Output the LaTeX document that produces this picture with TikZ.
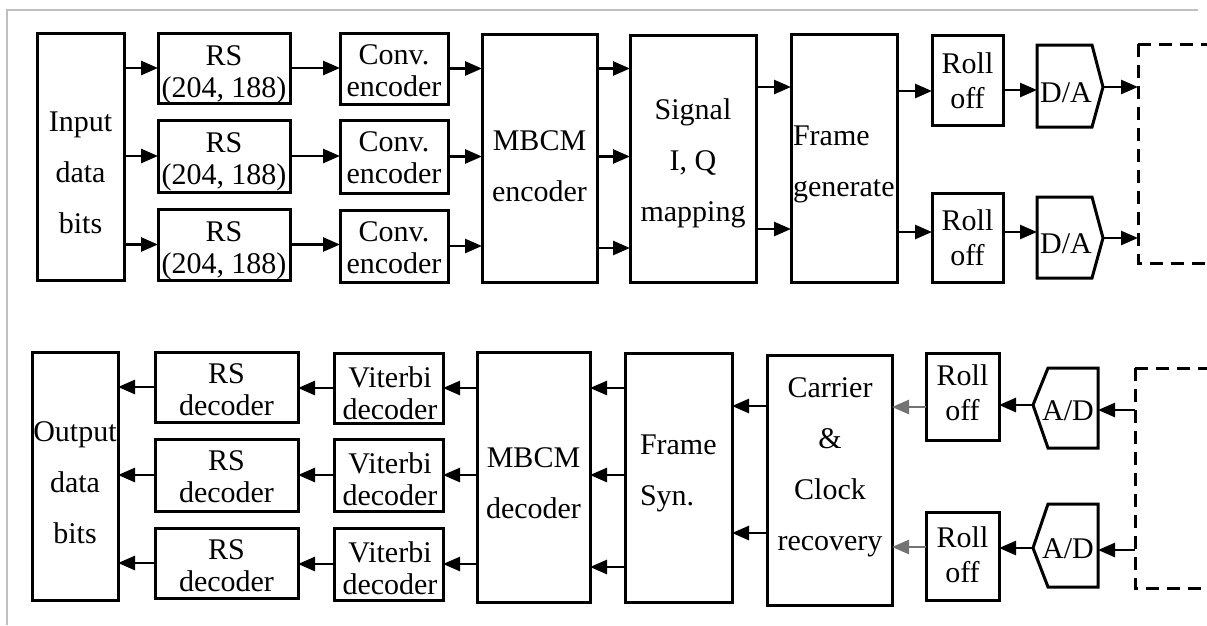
\documentclass[tikz,border=0pt]{standalone}
\usepackage{fontspec}
\setmainfont{Liberation Serif}
\usetikzlibrary{arrows.meta}
\tikzset{
  blk/.style={draw, line width=3pt, inner sep=0pt, outer sep=0pt},
  ghost/.style={inner sep=0pt, outer sep=0pt},
  lbl/.style={inner sep=0pt, outer sep=0pt, align=center, anchor=north, font=\fontsize{30}{32}\selectfont},
  lblro/.style={lbl, font=\fontsize{30}{35}\selectfont},
  lblbig/.style={lbl, font=\fontsize{30}{51}\selectfont},
  lblone/.style={inner sep=0pt, outer sep=0pt, anchor=base, font=\fontsize{30}{32}\selectfont},
  arr/.style={line width=2.6pt, -{Triangle[length=17pt,width=14pt]}},
  arrfaint/.style={arr, black!55},
  dashbox/.style={line width=3pt, dash pattern=on 13pt off 8pt},
  conv/.style={line width=3pt, line join=miter},
}
\newcommand\blkbox[5]{\node[blk, minimum width={(#4-#2)*1pt}, minimum height={(#5-#3)*1pt}] (#1) at ({(#2+#4)/2},{(#3+#5)/2}) {};}
\newcommand\ghostbox[5]{\node[ghost, minimum width={(#4-#2)*1pt}, minimum height={(#5-#3)*1pt}] (#1) at ({(#2+#4)/2},{(#3+#5)/2}) {};}
\begin{document}
\begin{tikzpicture}[x=1pt,y=-1pt]
\useasboundingbox (0,0) rectangle (1207,625);
\fill[white] (0,0) rectangle (1207,625);
\draw[black!25, line width=2pt] (7,625) -- (7,10) -- (1198,10);

% ---------- transmitter ----------
\blkbox{in}{37}{33}{124}{280}
\blkbox{rs1}{158}{33}{290}{103}
\blkbox{rs2}{158}{120}{290}{192}
\blkbox{rs3}{158}{209}{290}{280}
\blkbox{cv1}{340}{33}{448}{104}
\blkbox{cv2}{340}{120}{448}{193}
\blkbox{cv3}{340}{210}{448}{282}
\blkbox{mbe}{482}{34}{597}{282}
\blkbox{sig}{630}{35}{756}{282}
\blkbox{fg}{791}{34}{897}{282}
\blkbox{ro1}{932}{35}{1003}{125}
\blkbox{ro2}{932}{193}{1003}{282}
\ghostbox{da1}{1037}{45}{1092}{127}
\ghostbox{da2}{1037}{197}{1092}{278}
\coordinate (da1p) at (1103,87);
\coordinate (da2p) at (1103,238);
\draw[conv] (da1.north west) -- (da1.north east) -- (da1p) -- (da1.south east) -- (da1.south west) -- cycle;
\draw[conv] (da2.north west) -- (da2.north east) -- (da2p) -- (da2.south east) -- (da2.south west) -- cycle;
\draw[dashbox] (1138,44) -- (1207,44);
\draw[dashbox] (1138,44) -- (1138,263) -- (1207,263);
\coordinate (dt1) at (1138,87);
\coordinate (dt2) at (1138,238);

\node[lblbig] (in-t) at (80.5,112) {Input\\data\\bits};
\node[lbl] (rs1-t) at (224,46) {RS\\(204, 188)};
\node[lbl] (rs2-t) at (224,133) {RS\\(204, 188)};
\node[lbl] (rs3-t) at (224,222) {RS\\(204, 188)};
\node[lbl] (cv1-t) at (394,45) {Conv.\\encoder};
\node[lbl] (cv2-t) at (394,132) {Conv.\\encoder};
\node[lbl] (cv3-t) at (394,222) {Conv.\\encoder};
\node[lblbig] (mbe-t) at (539.5,131) {MBCM\\encoder};
\node[lblbig] (sig-t) at (693,99) {Signal\\I, Q\\mapping};
\node[lblbig, align=left, anchor=north west] (fg-t) at (793,126) {Frame\\generate};
\node[lblro] (ro1-t) at (967.5,53) {Roll\\off};
\node[lblro] (ro2-t) at (967.5,210) {Roll\\off};
\node[lblone] (da1-t) at (1066,102) {D/A};
\node[lblone] (da2-t) at (1066,253) {D/A};

\draw[arr] (in.east |- rs1.west) -- (rs1.west);
\draw[arr] (in.east |- rs2.west) -- (rs2.west);
\draw[arr] (in.east |- rs3.west) -- (rs3.west);
\draw[arr] (rs1.east) -- (cv1.west |- rs1.east);
\draw[arr] (rs2.east) -- (cv2.west |- rs2.east);
\draw[arr] (rs3.east) -- (cv3.west |- rs3.east);
\draw[arr] (cv1.east) -- (mbe.west |- cv1.east);
\draw[arr] (cv2.east) -- (mbe.west |- cv2.east);
\draw[arr] (cv3.east) -- (mbe.west |- cv3.east);
\draw[arr] (mbe.east |- cv1.east) -- (sig.west |- cv1.east);
\draw[arr] (mbe.east |- cv2.east) -- (sig.west |- cv2.east);
\draw[arr] (mbe.east |- 0,248) -- (sig.west |- 0,248);
\draw[arr] (sig.east |- 0,87) -- (fg.west |- 0,87);
\draw[arr] (sig.east |- 0,229) -- (fg.west |- 0,229);
\draw[arr] (fg.east |- 0,91) -- (ro1.west |- 0,91);
\draw[arr] (fg.east |- 0,232) -- (ro2.west |- 0,232);
\draw[arr] (ro1.east |- 0,90) -- (da1.west |- 0,90);
\draw[arr] (ro2.east |- 0,232) -- (da2.west |- 0,232);
\draw[arr] (da1p) -- (dt1);
\draw[arr] (da2p) -- (dt2);

% ---------- receiver ----------
\blkbox{out}{32}{352}{118}{600}
\blkbox{rsd1}{155}{352}{298}{422}
\blkbox{rsd2}{155}{439}{298}{511}
\blkbox{rsd3}{155}{528}{298}{598}
\blkbox{vd1}{334}{353}{443}{423}
\blkbox{vd2}{334}{439}{443}{511}
\blkbox{vd3}{334}{528}{443}{600}
\blkbox{mbd}{477}{352}{590}{602}
\blkbox{fs}{625}{353}{732}{602}
\blkbox{cc}{767}{355}{892}{605}
\blkbox{rb1}{926}{353}{999}{440}
\blkbox{rb2}{926}{512}{999}{600}
\ghostbox{ad1}{1048}{368}{1098}{448}
\ghostbox{ad2}{1048}{504}{1098}{587}
\coordinate (ad1p) at (1033,405);
\coordinate (ad2p) at (1033,548);
\draw[conv] (ad1.north east) -- (ad1.north west) -- (ad1p) -- (ad1.south west) -- (ad1.south east) -- cycle;
\draw[conv] (ad2.north east) -- (ad2.north west) -- (ad2p) -- (ad2.south west) -- (ad2.south east) -- cycle;
\draw[dashbox] (1135,368) -- (1207,368);
\draw[dashbox] (1135,368) -- (1135,588) -- (1207,588);
\coordinate (db1) at (1135,410);
\coordinate (db2) at (1135,550);

\node[lblbig] (out-t) at (75,422) {Output\\data\\bits};
\node[lbl] (rsd1-t) at (226.5,364) {RS\\decoder};
\node[lbl] (rsd2-t) at (226.5,451) {RS\\decoder};
\node[lbl] (rsd3-t) at (226.5,540) {RS\\decoder};
\node[lbl] (vd1-t) at (390,367) {Viterbi\\decoder};
\node[lbl] (vd2-t) at (390,453) {Viterbi\\decoder};
\node[lbl] (vd3-t) at (390,542) {Viterbi\\decoder};
\node[lblbig] (mbd-t) at (533.5,448) {MBCM\\decoder};
\node[lblbig, align=left, anchor=north west] (fs-t) at (640,435) {Frame\\Syn.};
\node[lblbig] (cc-t) at (830,378) {Carrier\\\&\\Clock\\recovery};
\node[lblro] (rb1-t) at (962.5,365) {Roll\\off};
\node[lblro] (rb2-t) at (962.5,527) {Roll\\off};
\node[lblone] (ad1-t) at (1068,420) {A/D};
\node[lblone] (ad2-t) at (1068,558) {A/D};

\draw[arr] (rsd1.west) -- (out.east |- rsd1.west);
\draw[arr] (rsd2.west) -- (out.east |- rsd2.west);
\draw[arr] (rsd3.west) -- (out.east |- rsd3.west);
\draw[arr] (vd1.west) -- (rsd1.east |- vd1.west);
\draw[arr] (vd2.west) -- (rsd2.east |- vd2.west);
\draw[arr] (vd3.west) -- (rsd3.east |- vd3.west);
\draw[arr] (mbd.west |- vd1.west) -- (vd1.east);
\draw[arr] (mbd.west |- vd2.west) -- (vd2.east);
\draw[arr] (mbd.west |- vd3.west) -- (vd3.east);
\draw[arr] (fs.west |- 0,388) -- (mbd.east |- 0,388);
\draw[arr] (fs.west |- 0,475) -- (mbd.east |- 0,475);
\draw[arr] (fs.west |- 0,567) -- (mbd.east |- 0,567);
\draw[arr] (cc.west |- 0,406) -- (fs.east |- 0,406);
\draw[arr] (cc.west |- 0,533) -- (fs.east |- 0,533);
\draw[arrfaint] (rb1.west |- 0,407) -- (cc.east |- 0,407);
\draw[arrfaint] (rb2.west |- 0,547) -- (cc.east |- 0,547);
\draw[arr] (ad1p) -- (rb1.east |- ad1p);
\draw[arr] (ad2p) -- (rb2.east |- ad2p);
\draw[arr] (db1) -- (ad1.east |- db1);
\draw[arr] (db2) -- (ad2.east |- db2);
\end{tikzpicture}
\end{document}
